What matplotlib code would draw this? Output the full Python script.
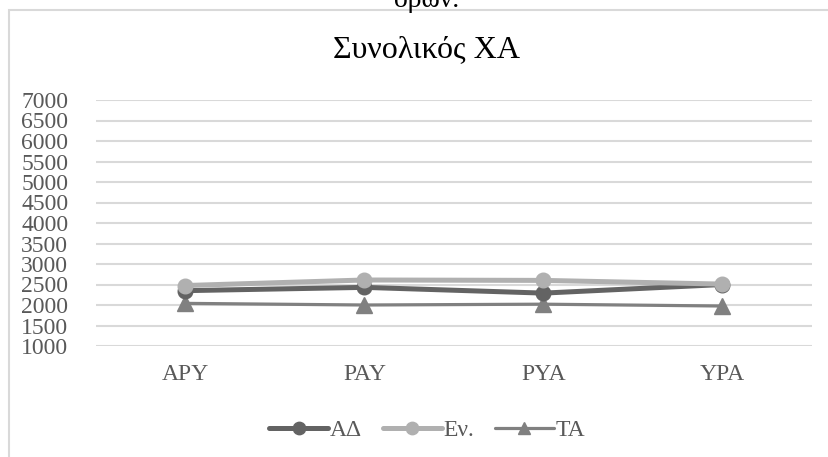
import matplotlib.pyplot as plt
from matplotlib.patches import Rectangle

plt.rcParams['font.family'] = ['Liberation Serif', 'DejaVu Serif']

# data
orders = ['APY', 'PAY', 'PYA', 'YPA']
ad = [2350, 2430, 2290, 2500]
en = [2475, 2610, 2600, 2510]
ta = [2040, 2000, 2020, 1975]

fig = plt.figure(figsize=(8.29, 4.57), dpi=100)

# chart frame, runs off the right and bottom edge
fig.patches.append(Rectangle((9 / 829, -0.1), 1.2, 1 - 10 / 457 + 0.1,
                             transform=fig.transFigure, fill=False,
                             edgecolor='#d9d9d9', linewidth=1.5))
# caption line above the chart, mostly cut off
fig.text(0.515, 1 - 7 / 457, 'όρων.', ha='center', va='baseline',
         fontsize=20, color='black')

ax = fig.add_axes([96 / 829, 1 - 346 / 457, (812 - 96) / 829, (346 - 100) / 457])
x = range(len(orders))
ax.plot(x, ad, color='#636363', linewidth=3.6, marker='o', markersize=10.5,
        solid_capstyle='round', label='ΑΔ', zorder=3)
ax.plot(x, en, color='#b0b0b0', linewidth=3.6, marker='o', markersize=10.5,
        solid_capstyle='round', label='Εν.', zorder=4)
ax.plot(x, ta, color='#808080', linewidth=2.3, marker='^', markersize=11,
        solid_capstyle='round', label='ΤΑ', zorder=2)

ax.set_xlim(-0.5, 3.5)
ax.set_ylim(1000, 7000)
ax.set_yticks(range(1000, 7001, 500))
ax.set_xticks(list(x))
ax.set_xticklabels(orders)
ax.tick_params(length=0, labelsize=17, labelcolor='#595959')
ax.tick_params(axis='y', pad=20)
ax.tick_params(axis='x', pad=13)
ax.grid(axis='y', color='#d9d9d9', linewidth=1.5)
ax.set_axisbelow(True)
for s in ax.spines.values():
    s.set_visible(False)

fig.text(0.515, 1 - 50 / 457, 'Συνολικός ΧΑ', ha='center', va='center',
         fontsize=23, color='black')

leg = fig.legend(loc='center', bbox_to_anchor=(0.515, 1 - 430 / 457), ncol=3,
                 frameon=False, fontsize=17, handlelength=2.5, markerscale=0.85,
                 handletextpad=0.05, columnspacing=0.9)
for t in leg.get_texts():
    t.set_color('#595959')

fig.savefig('out.png', dpi=100)
